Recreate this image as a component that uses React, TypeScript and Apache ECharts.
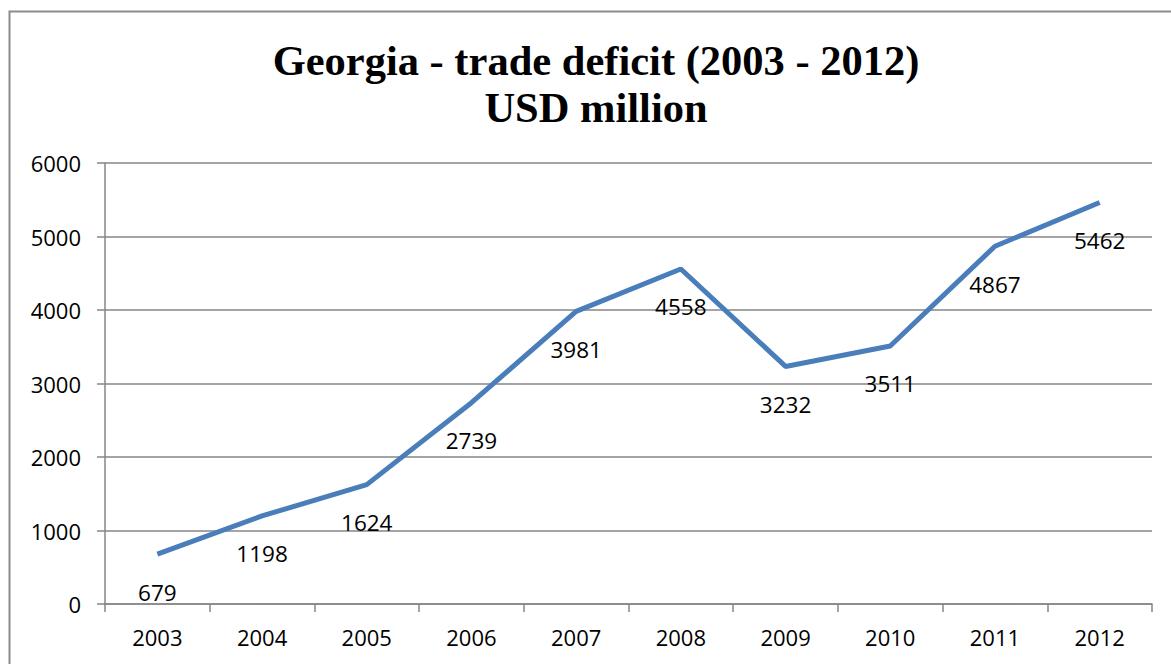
import React, { useEffect, useRef } from "react";
import * as echarts from "echarts";

const years = ["2003", "2004", "2005", "2006", "2007", "2008", "2009", "2010", "2011", "2012"];
const deficit = [679, 1198, 1624, 2739, 3981, 4558, 3232, 3511, 4867, 5462];
const titleLines = ["Georgia - trade deficit (2003 - 2012)", "USD million"];

export default function App() {
  const ref = useRef<HTMLDivElement>(null);
  useEffect(() => {
    if (!ref.current) return;
    const chart = echarts.init(ref.current, null, { renderer: "svg" });
    const labelFont = "'Open Sans', 'Noto Sans', sans-serif";
    const titleFont = "'Liberation Serif', 'Times New Roman', serif";
    chart.setOption({
      animation: false,
      backgroundColor: "#ffffff",
      graphic: [
        {
          type: "polyline",
          shape: { points: [[9.5, 700], [9.5, 11.5], [1171, 11.5]] },
          style: { stroke: "#8c8c8c", lineWidth: 2, fill: "none" },
          silent: true,
        },
        ...titleLines.map((t, i) => ({
          type: "text",
          x: 596,
          y: 60 + i * 47,
          silent: true,
          style: {
            text: t,
            align: "center",
            verticalAlign: "middle",
            fontFamily: titleFont,
            fontWeight: "bold",
            fontSize: 42.5,
            fill: "#000",
          },
        })),
      ],
      grid: { left: 105, right: 19, top: 163, bottom: 60, containLabel: false },
      xAxis: {
        type: "category",
        data: years,
        boundaryGap: true,
        axisLine: { show: true, lineStyle: { color: "#868686", width: 1.5 } },
        axisTick: { show: true, length: 8, alignWithLabel: false, lineStyle: { color: "#868686", width: 1.5 } },
        axisLabel: { color: "#000", fontSize: 22, fontFamily: labelFont, margin: 22 },
        splitLine: { show: false },
      },
      yAxis: {
        type: "value",
        min: 0,
        max: 6000,
        interval: 1000,
        axisLine: { show: true, lineStyle: { color: "#868686", width: 1.5 } },
        axisTick: { show: true, length: 8, lineStyle: { color: "#868686", width: 1.5 } },
        axisLabel: {
          color: "#000",
          fontSize: 22,
          fontFamily: labelFont,
          margin: 24,
          formatter: (v: number) => String(v),
        },
        splitLine: { show: true, lineStyle: { color: "#868686", width: 1.5 } },
      },
      series: [
        {
          type: "line",
          data: deficit,
          symbol: "circle",
          symbolSize: 1,
          showSymbol: true,
          itemStyle: { color: "rgba(0,0,0,0)" },
          lineStyle: { color: "#4A7EBB", width: 5 },
          label: {
            show: true,
            position: "bottom",
            distance: 26,
            color: "#000",
            fontSize: 22.5,
            fontFamily: labelFont,
            formatter: (p: any) => String(p.value),
          },
        },
      ],
    });
    return () => chart.dispose();
  }, []);
  return (
    <div
      ref={ref}
      style={{ position: "fixed", left: 0, top: 0, width: 1171, height: 664, background: "#fff" }}
    />
  );
}
